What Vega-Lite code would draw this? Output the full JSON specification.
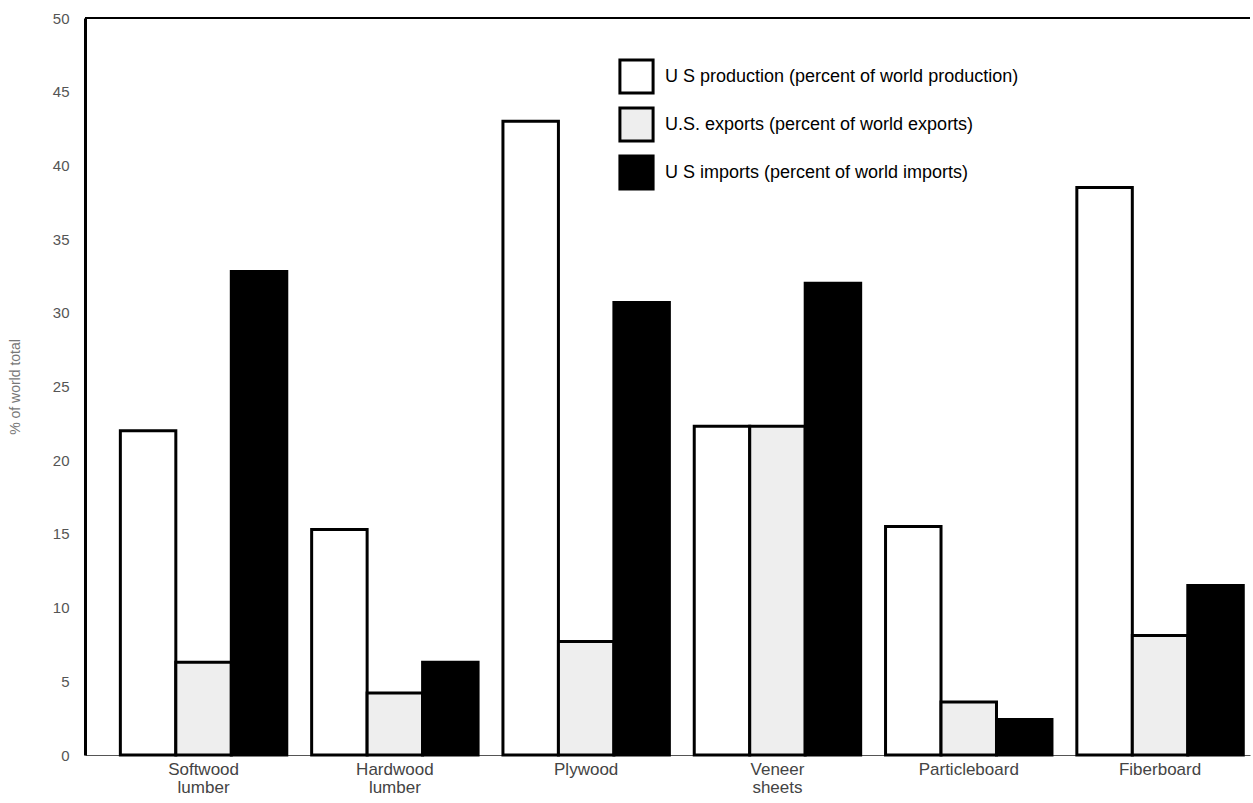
{
  "$schema": "https://vega.github.io/schema/vega-lite/v6.json",
  "width": 1165,
  "height": 737,
  "autosize": {"type": "none"},
  "padding": {"left": 85, "top": 18, "right": 3, "bottom": 48},
  "background": "white",
  "config": {"view": {"stroke": null}, "font": "Liberation Sans"},
  "datasets": {
    "bars": [
      {"product": "Softwood\nlumber", "series": "U S production (percent of world production)", "value": 22.0},
      {"product": "Softwood\nlumber", "series": "U.S. exports (percent of world exports)", "value": 6.3},
      {"product": "Softwood\nlumber", "series": "U S imports (percent of world imports)", "value": 32.8},
      {"product": "Hardwood\nlumber", "series": "U S production (percent of world production)", "value": 15.3},
      {"product": "Hardwood\nlumber", "series": "U.S. exports (percent of world exports)", "value": 4.2},
      {"product": "Hardwood\nlumber", "series": "U S imports (percent of world imports)", "value": 6.3},
      {"product": "Plywood", "series": "U S production (percent of world production)", "value": 43.0},
      {"product": "Plywood", "series": "U.S. exports (percent of world exports)", "value": 7.7},
      {"product": "Plywood", "series": "U S imports (percent of world imports)", "value": 30.7},
      {"product": "Veneer\nsheets", "series": "U S production (percent of world production)", "value": 22.3},
      {"product": "Veneer\nsheets", "series": "U.S. exports (percent of world exports)", "value": 22.3},
      {"product": "Veneer\nsheets", "series": "U S imports (percent of world imports)", "value": 32.0},
      {"product": "Particleboard", "series": "U S production (percent of world production)", "value": 15.5},
      {"product": "Particleboard", "series": "U.S. exports (percent of world exports)", "value": 3.6},
      {"product": "Particleboard", "series": "U S imports (percent of world imports)", "value": 2.4},
      {"product": "Fiberboard", "series": "U S production (percent of world production)", "value": 38.5},
      {"product": "Fiberboard", "series": "U.S. exports (percent of world exports)", "value": 8.1},
      {"product": "Fiberboard", "series": "U S imports (percent of world imports)", "value": 11.5}
    ],
    "top": [{"v": 50}]
  },
  "layer": [
    {
      "data": {"name": "bars"},
      "mark": {"type": "bar", "stroke": "black", "strokeWidth": 3},
      "encoding": {
        "x": {
          "field": "product", "type": "nominal", "sort": null,
          "scale": {"paddingInner": 0.13, "paddingOuter": 0.11, "align": 0.84},
          "axis": {
            "title": null, "labelAngle": 0, "ticks": false,
            "labelExpr": "split(datum.label, '\\n')",
            "labelFontSize": 17, "labelColor": "#444", "labelPadding": 6,
            "labelLineHeight": 18,
            "domainColor": "#555", "domainWidth": 1
          }
        },
        "xOffset": {
          "field": "series", "type": "nominal",
          "sort": ["U S production (percent of world production)", "U.S. exports (percent of world exports)", "U S imports (percent of world imports)"],
          "scale": {"paddingInner": 0}
        },
        "y": {
          "field": "value", "type": "quantitative",
          "scale": {"domain": [0, 50], "nice": false},
          "axis": {
            "title": "% of world total", "titleFontSize": 14, "titleFontWeight": "normal",
            "titleColor": "#777", "titlePadding": 30,
            "values": [0, 5, 10, 15, 20, 25, 30, 35, 40, 45, 50],
            "grid": false, "ticks": false, "labelPadding": 16,
            "labelFontSize": 15, "labelColor": "#555",
            "domainColor": "black", "domainWidth": 3
          }
        },
        "fill": {
          "field": "series", "type": "nominal",
          "scale": {
            "domain": ["U S production (percent of world production)", "U.S. exports (percent of world exports)", "U S imports (percent of world imports)"],
            "range": ["#ffffff", "#eeeeee", "#000000"]
          },
          "legend": {
            "title": null, "orient": "none", "legendX": 533, "legendY": 40,
            "symbolType": "square", "symbolSize": 1100, "symbolStrokeWidth": 3,
            "symbolStrokeColor": "black", "rowPadding": 1, "labelFontSize": 18,
            "labelColor": "black", "labelOffset": 10, "labelLimit": 600
          }
        }
      }
    },
    {
      "data": {"name": "top"},
      "mark": {"type": "rule", "color": "black", "strokeWidth": 2},
      "encoding": {"y": {"field": "v", "type": "quantitative"}}
    }
  ]
}
